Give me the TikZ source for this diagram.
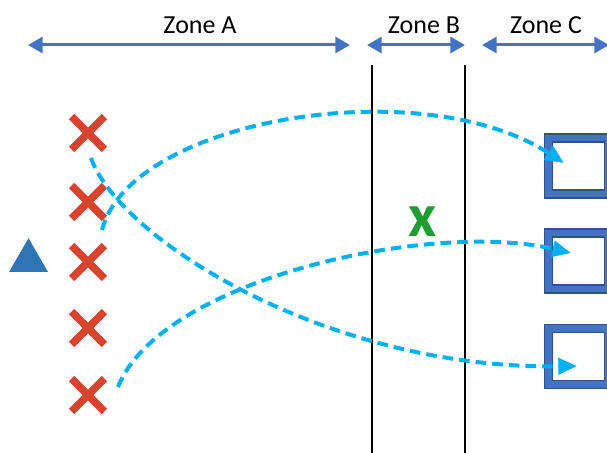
\documentclass[tikz,border=0pt]{standalone}
\usepackage{fontspec}
\setmainfont{Carlito}
\usetikzlibrary{arrows.meta,shapes.misc,shapes.geometric}
\definecolor{zoneblue}{HTML}{4472C4}
\definecolor{darkblue}{HTML}{2F528F}
\definecolor{crossred}{HTML}{D9442F}
\definecolor{triblue}{HTML}{2E75B6}
\definecolor{cyanline}{HTML}{00B0F0}
\definecolor{xgreen}{HTML}{1E9E32}
\tikzset{
  zonearrow/.style={draw=zoneblue, line width=2.25pt, {Triangle[length=11pt,width=12pt]}-{Triangle[length=11pt,width=12pt]}},
  zonelabel/.style={font=\fontsize{19.5}{20}\selectfont, inner sep=0pt},
  divider/.style={draw=black, line width=1.5pt},
  redcross/.style={cross out, draw=crossred, line width=5.7pt, minimum size=19pt, inner sep=0pt},
  target/.style={rectangle, fill=white, draw=darkblue, double=zoneblue, double distance=5pt, line width=0.9pt, minimum width=45pt, minimum height=42pt, inner sep=0pt},
  flow/.style={draw=cyanline, line width=3pt, dash pattern=on 8pt off 4.5pt, -{Triangle[length=14pt,width=12pt]}},
  tri/.style={regular polygon, regular polygon sides=3, fill=triblue, minimum size=33.75pt, inner sep=0pt},
}
\begin{document}
\begin{tikzpicture}[x=0.75pt,y=-0.75pt]
\useasboundingbox (0,0) rectangle (607,453);
\clip (0,0) rectangle (607,453);

% zone labels
\node[zonelabel] (la) at (200,25) {Zone A};
\node[zonelabel] (lb) at (424,25) {Zone B};
\node[zonelabel] (lc) at (546,25) {Zone C};

% zone arrows
\coordinate (a1) at (28,45);
\coordinate (a2) at (350,45);
\coordinate (b1) at (367,45);
\coordinate (b2) at (465,45);
\coordinate (c1) at (482,45);
\coordinate (c2) at (609,45);
\draw[zonearrow] (a1) -- (a2);
\draw[zonearrow] (b1) -- (b2);
\draw[zonearrow] (c1) -- (c2);

% dividers
\coordinate (d1t) at (372,65);
\coordinate (d1b) at (372,455);
\coordinate (d2t) at (465,65);
\coordinate (d2b) at (465,455);
\draw[divider] (d1t) -- (d1b);
\draw[divider] (d2t) -- (d2b);

% triangle
\node[tri] (tr) at (28.5,260.7) {};

% red crosses
\node[redcross] (x1) at (88,133) {};
\node[redcross] (x2) at (88,202) {};
\node[redcross] (x3) at (88,262) {};
\node[redcross] (x4) at (88,328) {};
\node[redcross] (x5) at (88,395) {};

% green x
\node[text=xgreen, inner sep=0pt, font=\bfseries\fontsize{46}{46}\selectfont] (gx) at (422.5,221.5) {x};

% target squares
\node[target] (s1) at (578.5,166) {};
\node[target] (s2) at (578.5,261) {};
\node[target] (s3) at (578.5,356.5) {};

% flows
\coordinate (f1s) at (91,158);
\coordinate (f1e) at (577,366);
\coordinate (f2s) at (102,230);
\coordinate (f2e) at (564,163);
\coordinate (f3s) at (118,387);
\coordinate (f3e) at (571,253);
\draw[flow] (f1s) .. controls (120,240) and (330,370) .. (f1e);
\draw[flow] (f2s) .. controls (130,120) and (420,70) .. (f2e);
\draw[flow] (f3s) .. controls (160,280) and (430,220) .. (f3e);
\end{tikzpicture}
\end{document}
